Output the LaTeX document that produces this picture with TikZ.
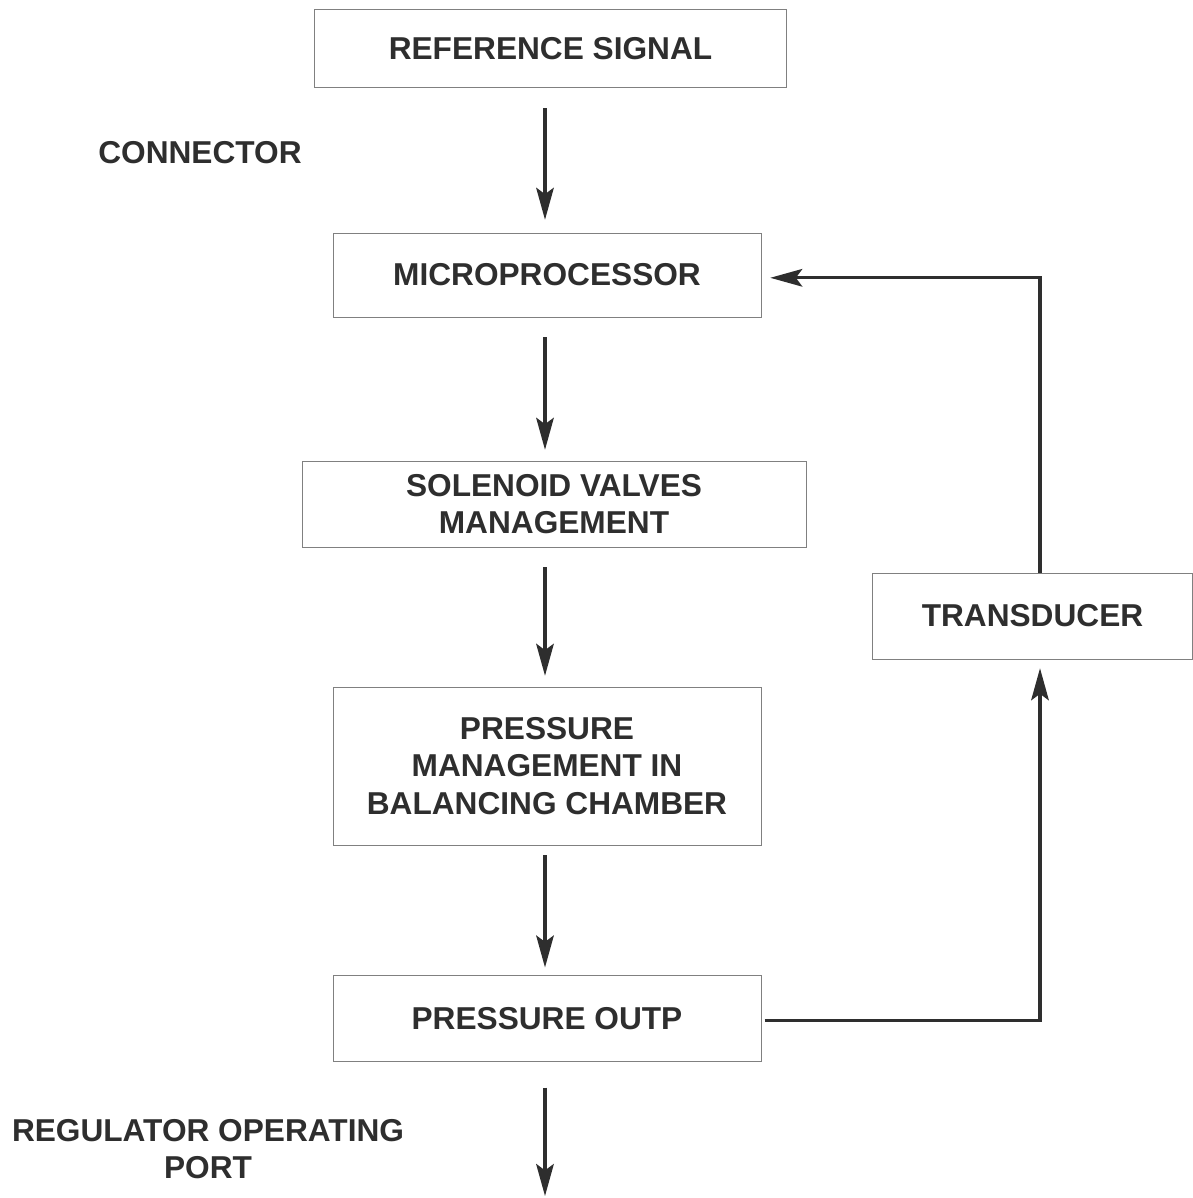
\documentclass[tikz,border=0pt]{standalone}
\usepackage{fontspec}
\setmainfont{Liberation Sans}
\usepackage{xcolor}
\usetikzlibrary{arrows.meta, positioning}

\definecolor{inkgray}{HTML}{2E2E2E}
\definecolor{framegray}{HTML}{808080}

\tikzset{
  block/.style={rectangle, draw=framegray, line width=0.6pt, text=inkgray,
    align=center, inner sep=0pt,
    font=\bfseries\fontsize{22.5}{26.6}\selectfont},
  label/.style={text=inkgray, align=center,
    font=\bfseries\fontsize{22.5}{26.6}\selectfont},
  flow/.style={draw=inkgray, line width=2.2pt,
    -{Stealth[length=0.8cm, width=0.44cm, inset=0.16cm]}}
}

\begin{document}
\begin{tikzpicture}[x=0.025cm, y=-0.025cm]
    \useasboundingbox (0,0) rectangle (1192,1198);
    % main column
    \node[block, minimum width=11.78cm, minimum height=1.93cm] (ref) at (550.5,48.5) {REFERENCE SIGNAL};
    \node[block, minimum width=10.7cm, minimum height=2.1cm] (micro) at (547,275) {MICROPROCESSOR};
    \node[block, minimum width=12.6cm, minimum height=2.15cm] (valves) at (554,504) {SOLENOID VALVES\\MANAGEMENT};
    \node[block, minimum width=10.7cm, minimum height=3.95cm] (chamber) at (547,766) {PRESSURE\\MANAGEMENT IN\\BALANCING CHAMBER};
    \node[block, minimum width=10.7cm, minimum height=2.13cm] (out) at (547,1018.5) {PRESSURE OUTP};
    % feedback
    \node[block, minimum width=7.98cm, minimum height=2.15cm] (trans) at (1032.5,616) {TRANSDUCER};
    \node[label] (conn) at (200,153) {CONNECTOR};
    \node[label] (port) at (208,1149) {REGULATOR OPERATING\\PORT};
    \coordinate (spine) at (545,0);
    \coordinate (fb) at (1040,0);
    \coordinate (exit) at (545,1196);
    \draw[flow, shorten <=0.52cm, shorten >=0.32cm] (ref.south -| spine) -- (micro.north -| spine);
    \draw[flow, shorten <=0.5cm, shorten >=0.27cm] (micro.south -| spine) -- (valves.north -| spine);
    \draw[flow, shorten <=0.5cm, shorten >=0.27cm] (valves.south -| spine) -- (chamber.north -| spine);
    \draw[flow, shorten <=0.25cm, shorten >=0.2cm] (chamber.south -| spine) -- (out.north -| spine);
    \draw[flow, shorten <=0.65cm] (out.south -| spine) -- (exit);
    \draw[flow, shorten <=0.08cm, shorten >=0.22cm] ([yshift=-0.06cm]out.east) -| (trans.south -| fb);
    \draw[flow, shorten >=0.22cm] (trans.north -| fb) |- ([yshift=-0.07cm]micro.east);
\end{tikzpicture}
\end{document}
